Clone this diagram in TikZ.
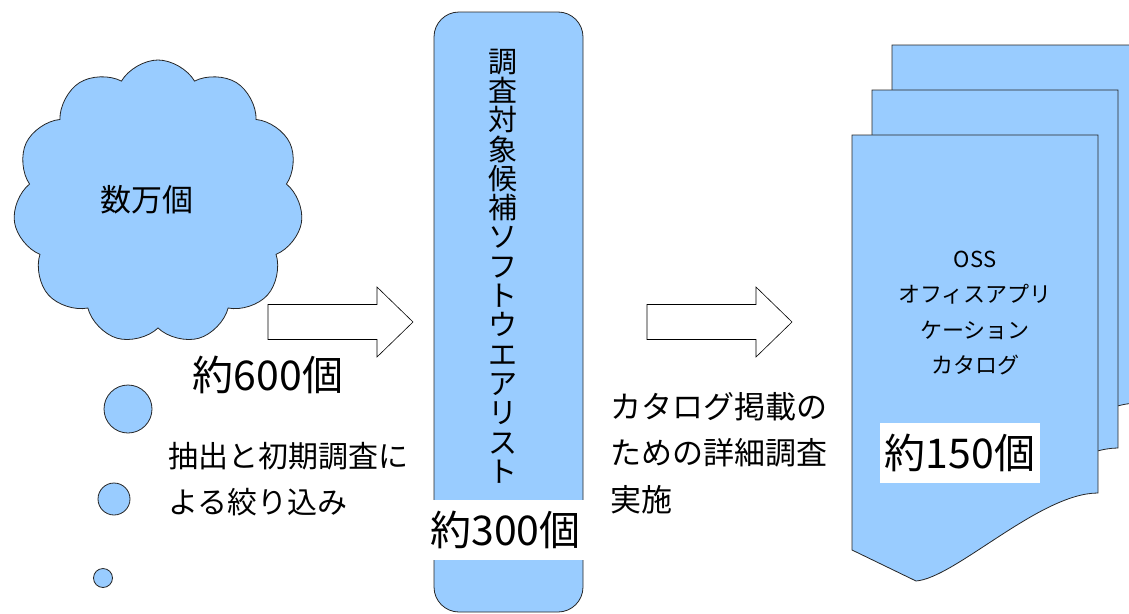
\documentclass[tikz,border=0pt]{standalone}
\usepackage{fontspec}
\setmainfont{Noto Sans CJK JP}
\usetikzlibrary{shapes.symbols}
\definecolor{paleblue}{HTML}{99CCFF}

\begin{document}
\begin{tikzpicture}[x=1pt,y=-1pt,line width=0.8pt]
  \tikzstyle{every node}=[inner sep=0pt]
  \tikzstyle{blob}=[draw=black!85, fill=paleblue]
  \tikzstyle{count}=[fill=white, inner xsep=5pt, minimum height=60pt,
    font=\fontsize{41}{41}\selectfont]
  \tikzstyle{note}=[align=left, anchor=west]
  \tikzset{fatarrow/.pic={
    \draw[fill=white, line width=0.6pt] (0,-17.5) -- (109,-17.5) -- (109,-35)
      -- (145,0) -- (109,35) -- (109,17.5) -- (0,17.5) -- cycle;}}

  \useasboundingbox (0,0) rectangle (1129,613);

  % thought cloud with its bubbles
  \node[blob, cloud, cloud puffs=11, cloud puff arc=120, cloud ignores aspect,
    minimum width=290pt, minimum height=284pt] (cloud_0) at (158,202) {};
  \node[font=\fontsize{31}{31}\selectfont] (cloud_text) at (147,200) {数万個};
  \node[blob, circle, minimum size=48pt] (bubble_1) at (128,409) {};
  \node[blob, circle, minimum size=32pt] (bubble_2) at (114,499) {};
  \node[blob, circle, minimum size=19pt] (bubble_3) at (103,578) {};

  \pic (arrow_1) at (268,322) {fatarrow};
  \node[count] (count_600) at (268,375) {約600個};
  \node[note, font=\fontsize{30}{46}\selectfont] (step_1) at (168,479.5)
    {抽出と初期調査に\\よる絞り込み};

  % candidate list
  \node[blob, rounded corners=25pt, minimum width=149pt, minimum height=600pt]
    (list_box) at (508.5,312) {};
  \node[align=center, font=\fontsize{29}{29.3}\selectfont] (list_text) at (503,266)
    {調\\査\\対\\象\\候\\補\\ソ\\フ\\ト\\ウ\\エ\\ア\\リ\\ス\\ト};
  \node[count] (count_300) at (505.5,530) {約300個};

  \pic (arrow_2) at (647,322) {fatarrow};
  \node[note, font=\fontsize{31}{46.5}\selectfont] (step_2) at (610,453)
    {カタログ掲載の\\ための詳細調査\\実施};

  % stack of catalogue pages
  \foreach \dx/\dy in {40/-90, 20/-45, 0/0}
    \draw[blob, shift={(\dx,\dy)}] (852,135) -- (1098,135) -- (1098,493)
      .. controls (1040,493) and (955,578) .. (916,581) -- (852,550) -- cycle;
  \node[align=center, font=\fontsize{22}{35.5}\selectfont] (catalog_text) at (975,313)
    {OSS\\オフィスアプリ\\ケーション\\カタログ};
  \node[count] (count_150) at (960,453) {約150個};
\end{tikzpicture}
\end{document}
